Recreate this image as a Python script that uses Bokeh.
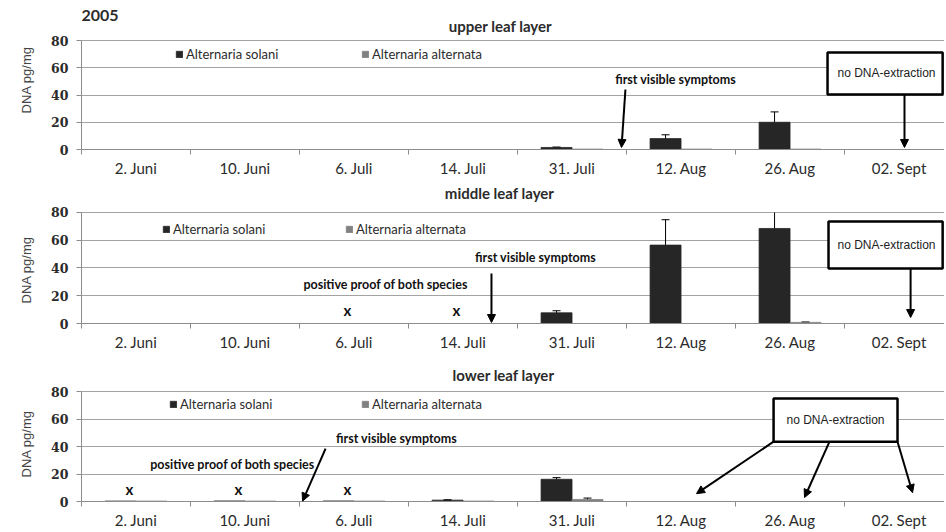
import math
from bokeh.plotting import figure
from bokeh.layouts import column
from bokeh.models import (Range1d, FixedTicker, ColumnDataSource, Whisker, TeeHead, Arrow,
                          NormalHead, BoxAnnotation, Label, Legend, LegendItem, Title)
from bokeh.embed import file_html
from bokeh.resources import INLINE
from bokeh.core.properties import value

NAN = float("nan")

# ---------------- data ----------------
categories = ["2. Juni", "10. Juni", "6. Juli", "14. Juli", "31. Juli", "12. Aug", "26. Aug", "02. Sept"]
y_ticks = [0, 20, 40, 60, 80]
Y_MAX = 80
y_label = "DNA pg/mg"

upper_solani = [0, 0, 0, 0, 1.5, 8.0, 20.0, NAN]
upper_solani_err = [0, 0, 0, 0, 0.3, 2.8, 7.6, 0]
upper_alternata = [0, 0, 0, 0, 0.3, 0.3, 0.3, NAN]
upper_alternata_err = [0, 0, 0, 0, 0, 0, 0, 0]

middle_solani = [0, 0, 0, 0, 7.7, 56.5, 68.5, NAN]
middle_solani_err = [0, 0, 0, 0, 1.5, 18.3, 15.0, 0]
middle_alternata = [0, 0, 0, 0, 0, 0, 0.8, NAN]
middle_alternata_err = [0, 0, 0, 0, 0, 0, 0.3, 0]
middle_marks = ["6. Juli", "14. Juli"]
middle_mark_y = [10, 10]

lower_solani = [0.3, 0.4, 0.4, 1.0, 16.2, NAN, NAN, NAN]
lower_solani_err = [0, 0, 0, 0.3, 1.2, 0, 0, 0]
lower_alternata = [0.3, 0.3, 0.3, 0.3, 1.5, NAN, NAN, NAN]
lower_alternata_err = [0, 0, 0, 0, 1.0, 0, 0, 0]
lower_marks = ["2. Juni", "10. Juni", "6. Juli"]
lower_mark_y = [9, 9, 9]

SOLANI = "#262626"
ALTERNATA = "#808080"
GRID = "#a3a3a3"
AXIS = "#8c8c8c"
TXT = "#2b2b2b"
BAR_W = 0.284
OFF = 0.142
FONT = "Lato"


def make_panel(title, title_pos, solani, solani_err, alt, alt_err, height, y_top,
               bottom_border, legend_pos, ylab_offset, marks=None, mark_y=None, texts=(),
               arrows=(), box=None):
    p = figure(width=944, height=height, output_backend="svg", toolbar_location=None,
               x_range=Range1d(0, 7.917), y_range=Range1d(0, y_top),
               min_border_left=81, min_border_right=0, min_border_top=0,
               min_border_bottom=bottom_border)
    p.outline_line_color = None
    p.background_fill_color = "white"
    p.border_fill_color = "white"

    n = len(categories)
    centers = [i + 0.5 for i in range(n)]
    xs_sol = [c - OFF for c in centers]
    xs_alt = [c + OFF for c in centers]

    src_sol = ColumnDataSource(dict(x=xs_sol, top=solani))
    src_alt = ColumnDataSource(dict(x=xs_alt, top=alt))
    r_sol = p.vbar(x="x", top="top", bottom=0, width=BAR_W, source=src_sol,
                   fill_color=SOLANI, line_color=SOLANI, line_width=0.8)
    r_alt = p.vbar(x="x", top="top", bottom=0, width=BAR_W, source=src_alt,
                   fill_color=ALTERNATA, line_color=ALTERNATA, line_width=0.8)

    # error bars (clipped at the axis maximum like the original chart)
    for xs, vals, errs in ((xs_sol, solani, solani_err), (xs_alt, alt, alt_err)):
        inside = dict(base=[], upper=[], lower=[])
        clipped = dict(base=[], upper=[], lower=[])
        for x, v, e in zip(xs, vals, errs):
            if e and not math.isnan(v):
                d = clipped if v + e > Y_MAX else inside
                d["base"].append(x)
                d["upper"].append(min(v + e, Y_MAX))
                d["lower"].append(v - e)
        for d, uh in ((inside, True), (clipped, False)):
            if d["base"]:
                p.add_layout(Whisker(source=ColumnDataSource(d), base="base", upper="upper",
                                     lower="lower", dimension="height", line_color="black",
                                     line_width=1,
                                     upper_head=TeeHead(size=8, line_color="black", line_width=1) if uh else None,
                                     lower_head=TeeHead(size=8, line_color="black", line_width=1)))

    # axes
    p.xaxis.ticker = FixedTicker(ticks=centers, minor_ticks=list(range(n + 1)))
    p.xaxis.major_label_overrides = {c: lab for c, lab in zip(centers, categories)}
    p.xaxis.major_tick_in = 0
    p.xaxis.major_tick_out = 0
    p.xaxis.minor_tick_in = 0
    p.xaxis.minor_tick_out = 5
    p.xaxis.minor_tick_line_color = AXIS
    p.xaxis.axis_line_color = AXIS
    p.xaxis.major_label_text_font = FONT
    p.xaxis.major_label_text_font_size = "15px"
    p.xaxis.major_label_text_color = TXT
    p.xaxis.major_label_standoff = 4

    p.yaxis.ticker = FixedTicker(ticks=y_ticks)
    p.yaxis.bounds = (y_ticks[0], y_ticks[-1])
    p.yaxis.minor_tick_line_color = None
    p.yaxis.major_tick_in = 0
    p.yaxis.major_tick_out = 5
    p.yaxis.major_tick_line_color = AXIS
    p.yaxis.axis_line_color = AXIS
    p.yaxis.major_label_text_font = "DejaVu Serif"
    p.yaxis.major_label_text_font_style = "bold"
    p.yaxis.major_label_text_font_size = "12.5px"
    p.yaxis.major_label_text_color = TXT
    p.yaxis.major_label_standoff = 8

    # y-axis title, placed along the value axis like the original
    p.add_layout(Title(text=y_label, align="left", offset=ylab_offset, standoff=29,
                       text_font="Liberation Sans", text_font_style="normal",
                       text_font_size="13px", text_color="#444444"), "left")

    p.xgrid.visible = False
    p.ygrid.ticker = FixedTicker(ticks=y_ticks)
    p.ygrid.grid_line_color = GRID
    p.ygrid.grid_line_width = 1

    # panel title
    p.add_layout(Label(x=title_pos[0], y=title_pos[1], text=title, text_align="center",
                       text_baseline="middle", text_font=FONT, text_font_style="bold",
                       text_font_size="15px", text_color=TXT))

    # legends
    for (lx, ly), lab, r in zip(legend_pos, ["Alternaria solani", "Alternaria alternata"], [r_sol, r_alt]):
        leg = Legend(items=[LegendItem(label=lab, renderers=[r])], location=(lx, ly),
                     orientation="horizontal", border_line_color=None, background_fill_alpha=0,
                     padding=0, margin=0, glyph_width=8, glyph_height=8, label_standoff=3,
                     label_height=10, label_text_font=FONT, label_text_font_size="13px",
                     label_text_color=TXT)
        p.add_layout(leg)

    if marks:
        xm = [categories.index(m) + 0.44 for m in marks]
        p.text(x=xm, y=mark_y, text=["x"] * len(xm), text_align="center", text_baseline="middle",
               text_font=value(FONT), text_font_style="bold", text_font_size="15px",
               text_color="#111111")

    if box is not None:
        (l, r, b, t), bt, (bx, by) = box
        p.add_layout(BoxAnnotation(left=l, right=r, bottom=b, top=t, fill_color="white",
                                   fill_alpha=1, line_color="black", line_alpha=1, line_width=2.5))
        p.add_layout(Label(x=bx, y=by, text=bt, text_align="center", text_baseline="middle",
                           text_font="Liberation Sans", text_font_size="12px",
                           text_color="#222222"))

    for (tx, ty, tt) in texts:
        p.add_layout(Label(x=tx, y=ty, text=tt, text_align="center", text_baseline="middle",
                           text_font=FONT, text_font_style="bold", text_font_size="12.5px",
                           text_color="#111111"))

    for (x0, y0, x1, y1) in arrows:
        p.add_layout(Arrow(x_start=x0, y_start=y0, x_end=x1, y_end=y1, line_width=2,
                           line_color="black",
                           end=NormalHead(size=8, fill_color="black", line_color="black",
                                          line_width=1)))
    return p


p1 = make_panel("upper leaf layer", (3.844, 91.0), upper_solani, upper_solani_err,
                upper_alternata, upper_alternata_err, height=180, y_top=109.36, bottom_border=31,
                legend_pos=[(94, 87), (280, 87)], ylab_offset=36,
                texts=[(5.45, 51.4, "first visible symptoms")],
                arrows=[(4.99, 44.0, 4.954, 1.5), (7.55, 40.4, 7.55, 1.5)],
                box=((6.844, 7.90, 40.4, 71.2), "no DNA-extraction", (7.385, 56.5)))
p1.add_layout(Label(x=0.0, y=98.3, text="2005", text_align="left", text_baseline="middle",
                    text_font=FONT, text_font_style="bold", text_font_size="16px",
                    text_color=TXT))

p2 = make_panel("middle leaf layer", (3.835, 93.7), middle_solani, middle_solani_err,
                middle_alternata, middle_alternata_err, height=175, y_top=103.06,
                bottom_border=32, legend_pos=[(81, 86), (264, 86)], ylab_offset=20,
                marks=middle_marks, mark_y=middle_mark_y,
                texts=[(2.79, 28.1, "positive proof of both species"),
                       (4.165, 47.6, "first visible symptoms")],
                arrows=[(3.761, 36.0, 3.761, 0.7), (7.606, 39.6, 7.606, 4.3)],
                box=((6.853, 7.90, 39.6, 73.5), "no DNA-extraction", (7.385, 56.9)))

p3 = make_panel("lower leaf layer", (3.872, 92.1), lower_solani, lower_solani_err,
                lower_alternata, lower_alternata_err, height=176, y_top=106.43,
                bottom_border=27, legend_pos=[(88, 89), (280, 89)], ylab_offset=24,
                marks=lower_marks, mark_y=lower_mark_y,
                texts=[(2.89, 45.7, "first visible symptoms"),
                       (1.385, 27.1, "positive proof of both species")],
                arrows=[(2.239, 38.6, 2.028, 0.3), (6.349, 43.6, 5.642, 5.7),
                        (6.862, 43.6, 6.633, 2.9), (7.486, 43.6, 7.624, 6.4)],
                box=((6.349, 7.486, 43.6, 75.0), "no DNA-extraction", (6.917, 59.3)))

layout = column(p1, p2, p3, spacing=0)
open("out.html", "w").write(file_html(layout, INLINE))
